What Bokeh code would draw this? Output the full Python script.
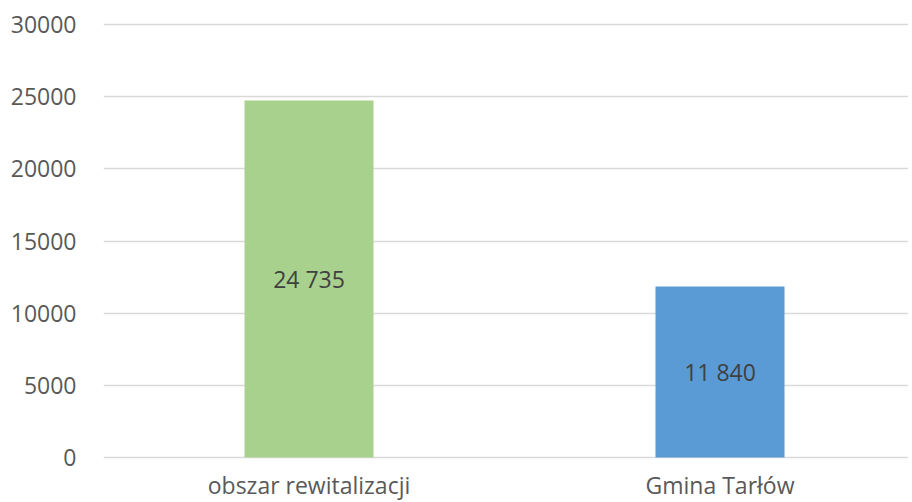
from bokeh.plotting import figure
from bokeh.models import Range1d, FixedTicker, ColumnDataSource, LabelSet
from bokeh.core.properties import value
from bokeh.embed import file_html
from bokeh.resources import INLINE

categories = ["obszar rewitalizacji", "Gmina Tarłów"]
values = [24735, 11840]
colors = ["#A9D18E", "#5B9BD5"]
y_ticks = [0, 5000, 10000, 15000, 20000, 25000, 30000]

xs = [i + 0.5 for i in range(len(categories))]
labels = [f"{v:,}".replace(",", " ") for v in values]
mids = [v / 2 for v in values]

src = ColumnDataSource(dict(x=xs, top=values, color=colors, label=labels, mid=mids))

FONT = "Open Sans"

p = figure(frame_width=805, frame_height=437, output_backend="svg", toolbar_location=None,
           x_range=Range1d(0, 805 / 411),
           y_range=Range1d(-30000 * 2 / 433, 30000 * 435 / 433),
           min_border_left=103, min_border_right=0, min_border_top=22, min_border_bottom=0)
p.outline_line_color = None
p.background_fill_color = "white"
p.border_fill_color = "white"

p.ygrid.grid_line_color = "#D9D9D9"
p.ygrid.grid_line_width = 1.5
p.ygrid.ticker = FixedTicker(ticks=y_ticks)
p.xgrid.visible = False

p.vbar(x="x", top="top", width=129 / 411, bottom=0, color="color", source=src, line_color=None)

p.add_layout(LabelSet(x="x", y="mid", text="label", source=src, text_align="center",
                      text_baseline="middle", text_font=value(FONT), text_font_size="23px",
                      text_color="#404040"))

p.yaxis.ticker = FixedTicker(ticks=y_ticks)
p.yaxis.axis_line_color = None
p.yaxis.major_tick_line_color = None
p.yaxis.minor_tick_line_color = None
p.yaxis.major_label_text_font = FONT
p.yaxis.major_label_text_font_size = "23px"
p.yaxis.major_label_text_color = "#595959"
p.yaxis.major_label_standoff = 21

p.xaxis.ticker = FixedTicker(ticks=xs)
p.xaxis.major_label_overrides = {x: c for x, c in zip(xs, categories)}
p.xaxis.axis_line_color = None
p.xaxis.major_tick_line_color = None
p.xaxis.minor_tick_line_color = None
p.xaxis.major_label_text_font = FONT
p.xaxis.major_label_text_font_size = "23px"
p.xaxis.major_label_text_color = "#595959"
p.xaxis.major_label_standoff = 3

open("out.html", "w").write(file_html(p, INLINE))
